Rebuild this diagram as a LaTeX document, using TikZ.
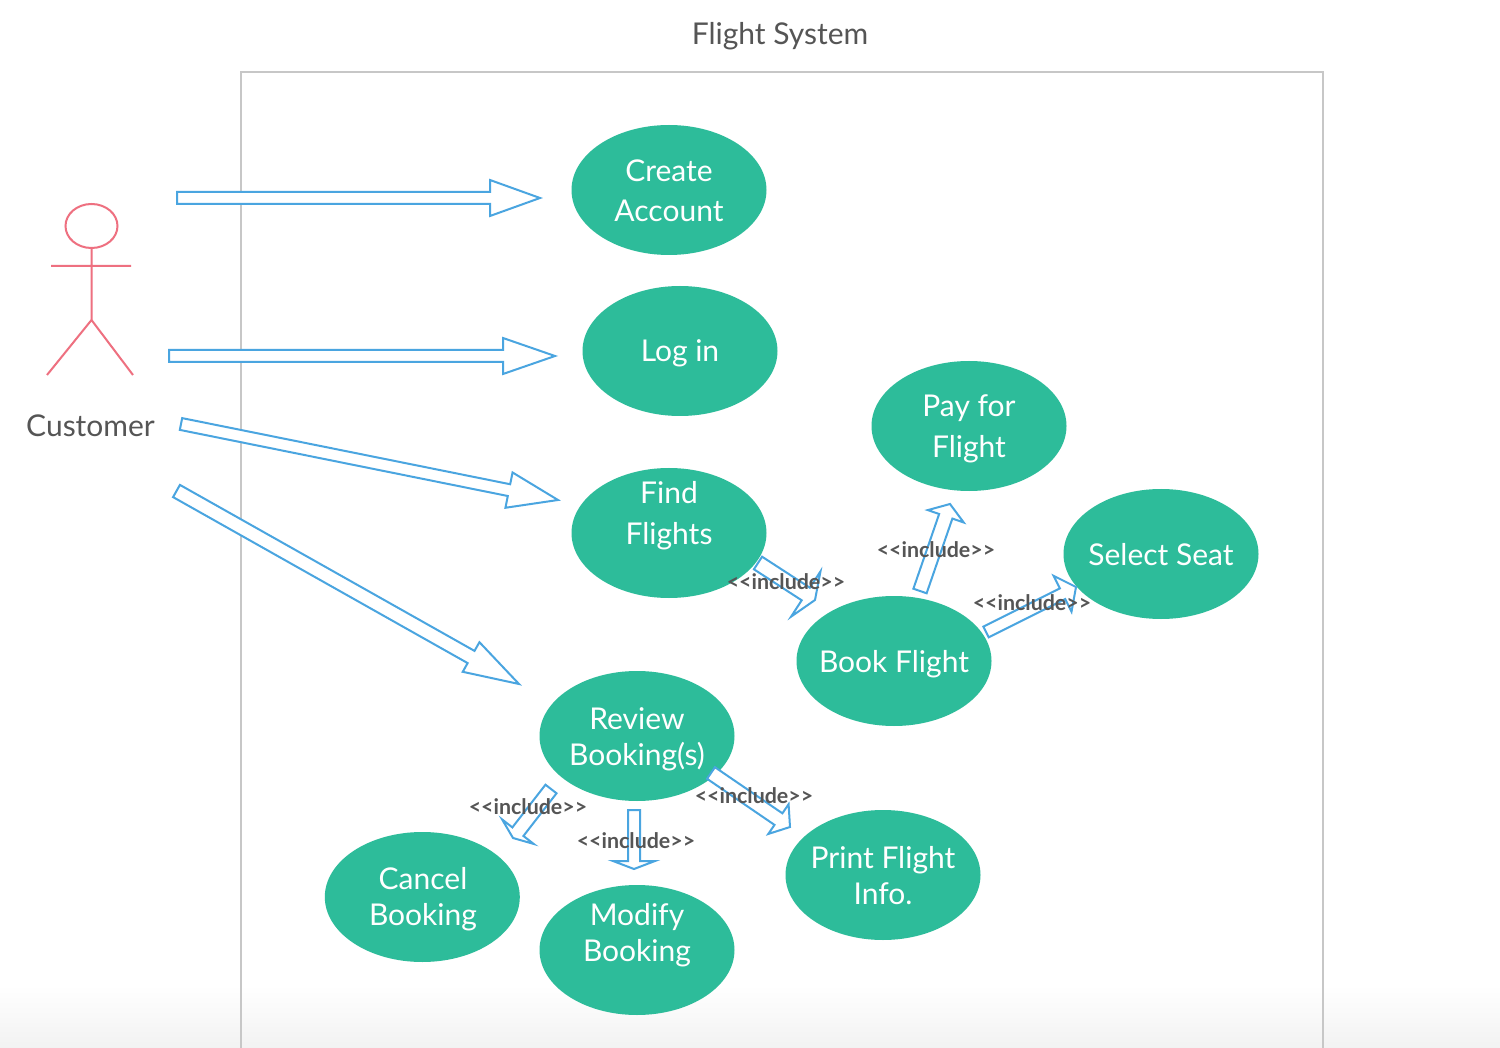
\documentclass[tikz,border=0pt]{standalone}
\usepackage{fontspec}
\setmainfont{Lato}
\usetikzlibrary{calc,shapes.geometric}
\definecolor{ucgreen}{HTML}{2DBC9A}
\definecolor{arrowblue}{HTML}{4AA5E0}
\definecolor{actorred}{HTML}{EE7080}
\definecolor{textgray}{HTML}{555555}
\tikzset{
  uc/.style={ellipse,fill=ucgreen,minimum width=195pt,minimum height=130pt,inner sep=0pt},
  uctext/.style={text=white,align=center,inner sep=0pt,font=\fontsize{30}{36}\selectfont},
  blockarrow/.style={draw=arrowblue,fill=white,line width=2pt,line join=miter},
  inc/.style={text=textgray,inner sep=0pt,font=\fontsize{21.4}{24}\selectfont\bfseries},
  plain/.style={text=textgray,inner sep=0pt,font=\fontsize{30}{36}\selectfont},
  actor/.style={draw=actorred,line width=2pt}
}
\newcommand{\blockarrowdraw}[5]{%
  \coordinate (hb) at ($(#2)!#5pt!(#1)$);
  \draw[blockarrow] ($(#1)!#3pt!90:(#2)$) -- ($(hb)!#3pt!-90:(#1)$) -- ($(hb)!#4pt!-90:(#1)$) -- (#2)
    -- ($(hb)!#4pt!90:(#1)$) -- ($(hb)!#3pt!90:(#1)$) -- ($(#1)!#3pt!-90:(#2)$) -- cycle;}
\begin{document}
\begin{tikzpicture}[x=1pt,y=-1pt]
\useasboundingbox (0,0) rectangle (1500,1048);
\fill[white] (0,0) rectangle (1500,1048);
\shade[top color=white,bottom color=black!5] (0,985) rectangle (1500,1048);
\draw[black!22,line width=2pt] (241,1048) -- (241,72) -- (1323,72) -- (1323,1048);
\node[plain] (title) at (780,36.5) {Flight System};
% actor
\node[ellipse,actor,minimum width=52pt,minimum height=44pt,inner sep=0pt] (head) at (91.5,226) {};
\coordinate (hip) at (91.5,320);
\coordinate (armL) at (51,266);
\coordinate (armR) at (131,266);
\coordinate (legL) at (47,375);
\coordinate (legR) at (133,375);
\draw[actor] (head.south) -- (hip) (armL) -- (armR) (legL) -- (hip) -- (legR);
\node[plain] (customer) at (90.5,426) {Customer};
% use cases
\node[uc] (create) at (669,190) {};
\node[uc] (login) at (680,351) {};
\node[uc] (find) at (669,533) {};
\node[uc] (pay) at (969,426) {};
\node[uc] (select) at (1161,554) {};
\node[uc] (book) at (894,661) {};
\node[uc] (review) at (637,736) {};
\node[uc] (cancel) at (422.3,897) {};
\node[uc] (modify) at (637,950) {};
\node[uc] (print) at (883,875) {};
\node[uctext] (createT) at (669,191) {Create\\[4pt]Account};
\node[uctext] (loginT) at (680,353.5) {Log in};
\node[uctext] (findT) at (669,516) {Find\\[5pt]Flights};
\node[uctext] (payT) at (969,429) {Pay for\\[5pt]Flight};
\node[uctext] (selectT) at (1161,555) {Select Seat};
\node[uctext] (bookT) at (894,664) {Book Flight};
\node[uctext] (reviewT) at (637,739) {Review\\Booking(s)};
\node[uctext] (cancelT) at (423,899.5) {Cancel\\Booking};
\node[uctext] (modifyT) at (637,935) {Modify\\Booking};
\node[uctext] (printT) at (883,876) {Print Flight\\Info.};
% connector ends
\coordinate (s1) at (177,198); \coordinate (t1) at (540,198);
\coordinate (s2) at (169,356); \coordinate (t2) at (555,356);
\coordinate (s3) at (181,424); \coordinate (t3) at (558,500);
\coordinate (s4) at (176.5,491); \coordinate (t4) at (519,684);
\coordinate (s5) at (758,563); \coordinate (t5) at (815,600);
\coordinate (s6) at (920,591); \coordinate (t6) at (950,504);
\coordinate (s7) at (986,632); \coordinate (t7) at (1076,587);
\coordinate (s8) at (551,789); \coordinate (t8) at (513,838);
\coordinate (s9) at (634,810); \coordinate (t9) at (634,869);
\coordinate (s10) at (711,773); \coordinate (t10) at (790,827);
\blockarrowdraw{s1}{t1}{6}{18}{50}
\blockarrowdraw{s2}{t2}{6}{18}{52}
\blockarrowdraw{s3}{t3}{6}{18}{50}
\blockarrowdraw{s4}{t4}{7}{17}{55}
\blockarrowdraw{s5}{t5}{7.5}{27}{11}
\blockarrowdraw{s6}{t6}{7}{19}{13}
\blockarrowdraw{s7}{t7}{6}{20}{15}
\blockarrowdraw{s8}{t8}{7}{20}{8}
\blockarrowdraw{s9}{t9}{6}{21}{8}
\blockarrowdraw{s10}{t10}{7}{18}{14}
% labels
\node[inc] (l1) at (786,582) {<{}<include>{}>};
\node[inc] (l2) at (936,550) {<{}<include>{}>};
\node[inc] (l3) at (1032,603) {<{}<include>{}>};
\node[inc] (l4) at (528,807) {<{}<include>{}>};
\node[inc] (l5) at (636,841) {<{}<include>{}>};
\node[inc] (l6) at (754,796) {<{}<include>{}>};
\end{tikzpicture}
\end{document}
